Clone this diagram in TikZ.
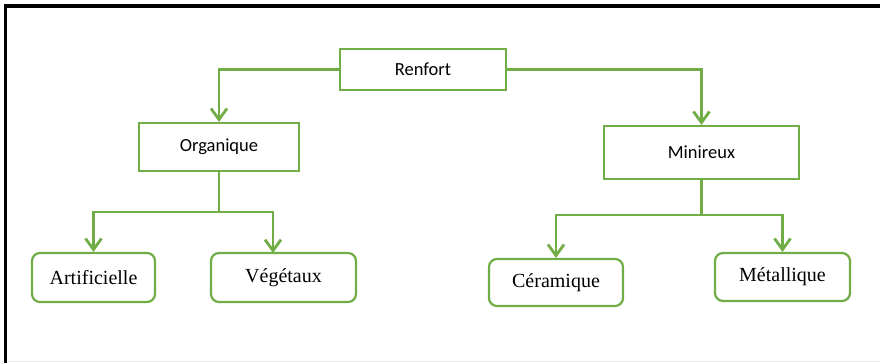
\documentclass[tikz,border=0pt]{standalone}
\usepackage{fontspec}
\setmainfont{Liberation Serif}
\newfontfamily\calib{Carlito}
\usetikzlibrary{arrows.meta}
\definecolor{grn}{RGB}{112,173,71}
\tikzset{
  sqbox/.style={draw=grn, line width=2.2pt, fill=white, inner sep=0pt, font=\calib\fontsize{18.5}{22}\selectfont},
  rdbox/.style={draw=grn, line width=2.2pt, fill=white, rounded corners=8pt, inner sep=0pt, font=\fontsize{20}{23}\selectfont},
  conn/.style={draw=grn, line width=2.8pt},
  arr/.style={conn, -{Straight Barb[length=11pt,width=16pt,line width=2.8pt]}},
}
\begin{document}
\begin{tikzpicture}[x=1pt,y=-1pt]
\useasboundingbox (0,0) rectangle (880,363);
% frame
\draw[line width=3.5pt] (5.5,363) -- (5.5,6) -- (880,6);
\draw[line width=1pt, black!8] (8,361.5) -- (880,361.5);
% nodes
\node[sqbox, minimum width=166pt, minimum height=41pt] (ren) at (423,69.5) {Renfort};
\node[sqbox, minimum width=160pt, minimum height=48pt] (org) at (219,147) {Organique};
\node[sqbox, minimum width=195pt, minimum height=53pt] (min) at (701.5,152.5) {Minireux};
\node[rdbox, minimum width=123pt, minimum height=49pt] (art) at (93.5,277.5) {Artificielle};
\node[rdbox, minimum width=145pt, minimum height=49pt] (veg) at (283.5,277.5) {Végétaux};
\node[rdbox, minimum width=134pt, minimum height=47pt] (cer) at (556,282.5) {Céramique};
\node[rdbox, minimum width=135pt, minimum height=48pt] (met) at (782.5,277) {Métallique};
% connectors
\draw[arr] (ren.west) -| (org.north);
\draw[arr] (ren.east) -| (min.north);
\coordinate (oj) at (219,212);
\coordinate (vegtop) at (273,253);
\draw[conn] (org.south) -- (oj);
\draw[arr] (oj) -| (art.north);
\draw[arr] (oj) -| (vegtop);
\coordinate (mj) at (701.5,215);
\draw[conn] (min.south) -- (mj);
\draw[arr] (mj) -| (cer.north);
\draw[arr] (mj) -| (met.north);
\end{tikzpicture}
\end{document}
